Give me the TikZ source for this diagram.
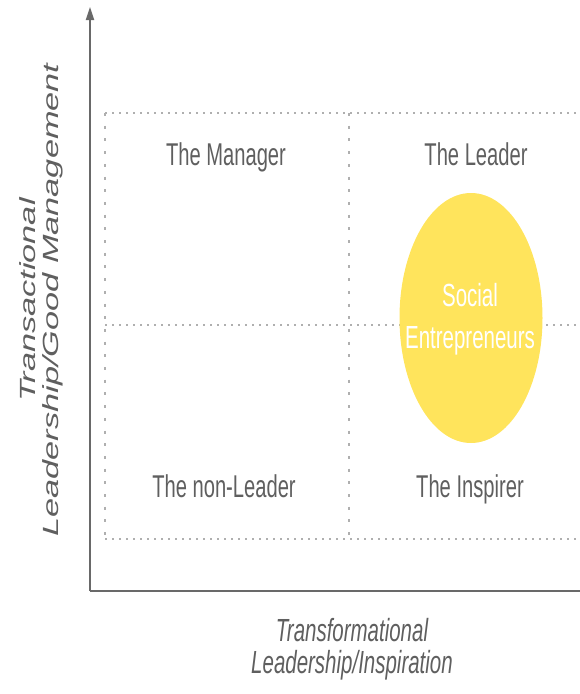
\documentclass[tikz,border=0pt]{standalone}
\usepackage{fontspec}
\setmainfont{Liberation Sans}
\usetikzlibrary{arrows.meta,shapes.geometric}
\definecolor{txt}{RGB}{95,95,95}
\definecolor{axiscol}{RGB}{105,105,105}
\definecolor{dotcol}{RGB}{175,175,175}
\definecolor{sun}{RGB}{255,228,92}
\newcommand{\sqz}[1]{\scalebox{0.64}[1]{#1}}
\begin{document}
\begin{tikzpicture}[x=1pt,y=-1pt,
  quad/.style={anchor=base, inner sep=0pt, text=txt, font=\fontsize{31.5}{34}\selectfont},
  intext/.style={anchor=base, inner sep=0pt, text=white, font=\fontsize{32}{34}\selectfont},
  xlab/.style={anchor=base, inner sep=0pt, text=txt, font=\itshape\fontsize{32}{34}\selectfont},
  hdots/.style={draw=dotcol, line width=2.5pt, dash pattern=on 1.5pt off 5.5pt},
  vdots/.style={draw=dotcol, line width=2pt, dash pattern=on 3pt off 9.7pt},
  axisline/.style={draw=axiscol, line width=1.8pt},
]
\useasboundingbox (0,0) rectangle (580,694);
% grid coordinates
\coordinate (tl) at (105,113);
\coordinate (tm) at (349,113);
\coordinate (tr) at (580,113);
\coordinate (ml) at (105,325);
\coordinate (mr) at (580,325);
\coordinate (bl) at (105,539);
\coordinate (bm) at (349,539);
\coordinate (br) at (580,539);
% dotted grid
\draw[hdots] (tl) -- (tr);
\draw[hdots] (ml) -- (mr);
\draw[hdots] (bl) -- (br);
\draw[vdots] (tl) -- (bl);
\draw[vdots] (tm) -- (bm);
% axes
\coordinate (o) at (90,591);
\coordinate (ytip) at (90,7);
\coordinate (xend) at (580,591);
\draw[axisline, -{Triangle[length=13pt,width=8pt]}] (o) -- (ytip);
\draw[axisline] (o) -- (xend);
% ellipse
\node[ellipse, fill=sun, minimum width=143pt, minimum height=250pt, inner sep=0pt] (se) at (471,318) {};
\node[intext] (se1) at (470,306) {\sqz{Social}};
\node[intext] (se2) at (470,348) {\sqz{Entrepreneurs}};
% quadrant labels
\node[quad] (manager) at (226,165) {\sqz{The Manager}};
\node[quad] (leader) at (476,165) {\sqz{The Leader}};
\node[quad] (nonleader) at (224,497) {\sqz{The non-Leader}};
\node[quad] (inspirer) at (470,497) {\sqz{The Inspirer}};
% axis labels
\node[xlab] (xl1) at (352,641) {\sqz{Transformational}};
\node[xlab] (xl2) at (352,673) {\sqz{Leadership/Inspiration}};
\node[rotate=90, inner sep=0pt, text=txt, font=\itshape\fontsize{34.3}{36}\selectfont] (ylab) at (42,300)
  {\scalebox{1}[0.64]{\begin{tabular}{@{}c@{}}Transactional\\Leadership/Good Management\end{tabular}}};
\end{tikzpicture}
\end{document}
